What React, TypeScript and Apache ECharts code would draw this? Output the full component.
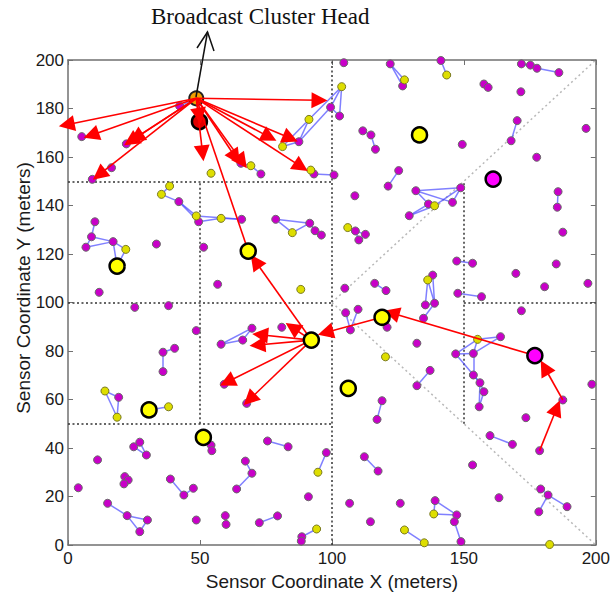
import React, { useEffect, useRef } from "react";
import * as echarts from "echarts";

// ---- Data ----
const xTicks = [0, 50, 100, 150, 200];
const yTicks = [0, 20, 40, 60, 80, 100, 120, 140, 160, 180, 200];

const magentaNodes: number[][] = [
  [42.3, 181], [5.2, 168.4], [22.1, 165.4], [16.5, 155.6], [9.2, 150.8], [65.5, 157.4], [73.1, 153],
  [87.5, 166.3], [99.5, 180.5], [93.2, 153], [100.8, 152.6], [42, 141.6], [49.5, 133.3], [65.8, 134.3],
  [78.7, 134.3], [91.6, 132.7], [93.6, 129.6], [96, 127.8], [10.2, 133.3], [8.9, 127.1], [6.8, 122.8],
  [17.1, 125.1], [33.5, 124.1], [51.4, 122.8], [56.7, 107.5], [11.8, 104.2], [25.3, 98], [38.1, 98.7],
  [48.6, 88.4], [69.7, 89.4], [66.2, 84.5], [58, 82.8], [81, 89.8], [36, 79.5], [40.4, 81.1], [36, 71.5],
  [59.2, 66.3], [67.7, 58.4], [19.2, 60.9],
  [54.2, 41.2], [54.5, 38.9], [24.9, 40.5], [27.2, 42.4], [29.7, 37.1], [11.2, 35.1], [3.9, 23.6],
  [21.5, 28.2], [22.8, 26.8], [21.2, 25.2], [38.8, 27.2], [43.9, 20.6], [47.5, 23.4], [15, 17.2],
  [22.4, 12.1], [30.1, 10.3], [27.2, 5.5], [48.6, 10.3], [59.6, 12.1], [59.9, 8.5], [75.6, 42.9],
  [83.4, 40.5], [67.2, 34.6], [69.7, 29.6], [63.9, 23.1], [97.9, 38.1], [91.1, 19.9], [72.5, 9.2],
  [79.4, 12], [88.6, 3.4], [88.4, 1.6],
  [104.5, 198.9], [122.1, 198.4], [126.8, 189.3], [141.3, 199.8], [171.8, 198.4], [175.2, 197.9],
  [177.7, 196.6], [186, 194.8], [157.6, 190.1], [159.2, 188.7], [171.6, 186.9], [111.7, 170.8],
  [114.8, 169.1], [116.5, 163.2], [149.4, 165.2], [170.2, 175], [167.9, 166.7], [196.3, 171.8],
  [177.6, 159.9], [125.3, 154.4], [121.3, 148], [108.7, 144], [131.8, 146.1], [136.6, 140.6],
  [145.7, 141.3], [148.8, 147.3], [129.3, 135.8], [185.7, 145.7], [185.4, 139.3], [187.5, 129],
  [108.9, 129.5], [112.7, 128.1], [110.2, 125.8], [102.9, 176.9],
  [147.3, 117.1], [153.3, 116.2], [169.7, 112], [185, 115.9], [180.6, 106.5], [197, 107.9],
  [104.9, 105.9], [116.2, 107.9], [120.5, 104.9], [138.2, 111.3], [135.4, 99], [138.9, 99.7],
  [134.7, 93.5], [147.7, 103.8], [156.7, 102.4], [171.8, 96.6], [120.9, 89.8], [105.2, 95.8],
  [109.9, 97.2], [107, 88.7], [132.2, 83.2], [163.9, 85.9], [153.6, 79], [146.9, 78.8], [137.2, 72],
  [132.2, 65.7],
  [153.6, 70.1], [156.1, 66.9], [157.6, 63.2], [155.8, 57], [119, 59.5], [117.1, 51.8], [198.5, 66.3],
  [187.5, 59.8], [173.5, 52.5], [159.9, 45.1], [168.4, 41.5], [112.3, 36.4], [117.5, 30.5],
  [153.3, 33], [178.7, 38.9], [179.1, 23.1], [181.9, 20.6], [189.1, 15.8], [178.4, 13.7],
  [163.3, 19.5], [106.7, 17.2], [125.9, 17.2], [114.6, 9.6], [139.1, 18.3], [147.3, 12.4],
  [146.4, 9.6], [148.9, 1.4],
];

const yellowNodes: number[][] = [
  [54.2, 153.3], [69.3, 156.4], [81.3, 164.3], [91.3, 175.5], [103.7, 189], [92, 154.6], [38.5, 148],
  [35.4, 144.6], [127.5, 191.8], [143.5, 193.8], [138.9, 139.9], [106, 130.9], [48.6, 135.7],
  [58, 134.7], [85, 128.8], [21.9, 121.9], [88.2, 105.4], [136.3, 109.3], [155.2, 84.8], [120.3, 77.6],
  [14, 63.5], [18.6, 52.7], [38.1, 57], [94.7, 30], [94.2, 6.6], [138.6, 12.8], [127.5, 6.2],
  [135, 0.9], [182.5, 0.2],
];

const yellowHeads: number[][] = [
  [133.2, 169.1], [68.3, 121.2], [18.6, 115], [119, 93.9], [92.2, 84.5], [106.2, 64.6], [30.7, 55.7],
  [51.3, 44.4],
];
const magentaHeads: number[][] = [[161.1, 150.9], [176.9, 78.1]];
const redHead: number[][] = [[49.8, 174.6]];
const broadcastHead: number[] = [48.6, 184.2];

const links: number[][][] = [
  [[42.3, 181], [48.6, 184.2]],
  [[65.5, 157.4], [69.3, 156.4]], [[69.3, 156.4], [73.1, 153]],
  [[81.3, 164.3], [87.5, 166.3]], [[87.5, 166.3], [91.3, 175.5]], [[81.3, 164.3], [91.3, 175.5]],
  [[91.3, 175.5], [103.7, 189]], [[87.5, 166.3], [99.5, 180.5]], [[99.5, 180.5], [103.7, 189]],
  [[103.7, 189], [102.9, 176.9]], [[99.5, 180.5], [102.9, 176.9]],
  [[92, 154.6], [93.2, 153]], [[93.2, 153], [100.8, 152.6]],
  [[38.5, 148], [35.4, 144.6]], [[35.4, 144.6], [42, 141.6]], [[42, 141.6], [48.6, 135.7]],
  [[42, 141.6], [49.5, 133.3]], [[48.6, 135.7], [65.8, 134.3]], [[49.5, 133.3], [58, 134.7]],
  [[58, 134.7], [65.8, 134.3]],
  [[78.7, 134.3], [85, 128.8]], [[78.7, 134.3], [91.6, 132.7]], [[85, 128.8], [91.6, 132.7]],
  [[91.6, 132.7], [93.6, 129.6]], [[93.6, 129.6], [96, 127.8]],
  [[10.2, 133.3], [8.9, 127.1]], [[8.9, 127.1], [6.8, 122.8]], [[6.8, 122.8], [17.1, 125.1]],
  [[8.9, 127.1], [17.1, 125.1]], [[17.1, 125.1], [21.9, 121.9]], [[21.9, 121.9], [18.6, 115]],
  [[17.1, 125.1], [18.6, 115]],
  [[69.7, 89.4], [58, 82.8]], [[66.2, 84.5], [58, 82.8]], [[69.7, 89.4], [66.2, 84.5]],
  [[36, 79.5], [40.4, 81.1]], [[36, 79.5], [36, 71.5]],
  [[14, 63.5], [19.2, 60.9]], [[19.2, 60.9], [18.6, 52.7]], [[14, 63.5], [18.6, 52.7]],
  [[30.7, 55.7], [38.1, 57]],
  [[51.3, 44.4], [54.2, 41.2]], [[54.2, 41.2], [54.5, 38.9]],
  [[24.9, 40.5], [27.2, 42.4]], [[27.2, 42.4], [29.7, 37.1]], [[24.9, 40.5], [29.7, 37.1]],
  [[21.5, 28.2], [22.8, 26.8]], [[22.8, 26.8], [21.2, 25.2]],
  [[38.8, 27.2], [43.9, 20.6]], [[43.9, 20.6], [47.5, 23.4]],
  [[15, 17.2], [22.4, 12.1]], [[22.4, 12.1], [30.1, 10.3]], [[22.4, 12.1], [27.2, 5.5]],
  [[30.1, 10.3], [27.2, 5.5]],
  [[59.6, 12.1], [59.9, 8.5]], [[75.6, 42.9], [83.4, 40.5]],
  [[67.2, 34.6], [69.7, 29.6]], [[69.7, 29.6], [63.9, 23.1]],
  [[97.9, 38.1], [94.7, 30]], [[72.5, 9.2], [79.4, 12]],
  [[94.2, 6.6], [88.6, 3.4]], [[88.6, 3.4], [88.4, 1.6]],
  [[122.1, 198.4], [127.5, 191.8]], [[122.1, 198.4], [126.8, 189.3]],
  [[141.3, 199.8], [143.5, 193.8]],
  [[171.8, 198.4], [175.2, 197.9]], [[175.2, 197.9], [177.7, 196.6]], [[177.7, 196.6], [186, 194.8]],
  [[171.8, 198.4], [177.7, 196.6]],
  [[157.6, 190.1], [159.2, 188.7]],
  [[111.7, 170.8], [114.8, 169.1]], [[114.8, 169.1], [116.5, 163.2]],
  [[170.2, 175], [167.9, 166.7]], [[125.3, 154.4], [121.3, 148]],
  [[131.8, 146.1], [136.6, 140.6]], [[131.8, 146.1], [145.7, 141.3]], [[131.8, 146.1], [148.8, 147.3]],
  [[136.6, 140.6], [138.9, 139.9]], [[138.9, 139.9], [148.8, 147.3]], [[129.3, 135.8], [138.9, 139.9]],
  [[129.3, 135.8], [136.6, 140.6]], [[145.7, 141.3], [148.8, 147.3]],
  [[185.7, 145.7], [185.4, 139.3]],
  [[106, 130.9], [108.9, 129.5]], [[108.9, 129.5], [110.2, 125.8]], [[110.2, 125.8], [112.7, 128.1]],
  [[108.9, 129.5], [112.7, 128.1]],
  [[147.3, 117.1], [153.3, 116.2]], [[116.2, 107.9], [120.5, 104.9]],
  [[136.3, 109.3], [138.2, 111.3]], [[136.3, 109.3], [135.4, 99]], [[138.2, 111.3], [138.9, 99.7]],
  [[136.3, 109.3], [138.9, 99.7]], [[135.4, 99], [138.9, 99.7]], [[138.9, 99.7], [134.7, 93.5]],
  [[147.7, 103.8], [156.7, 102.4]], [[119, 93.9], [120.9, 89.8]],
  [[105.2, 95.8], [107, 88.7]], [[109.9, 97.2], [107, 88.7]],
  [[155.2, 84.8], [163.9, 85.9]], [[155.2, 84.8], [153.6, 79]], [[153.6, 79], [163.9, 85.9]],
  [[155.2, 84.8], [146.9, 78.8]], [[146.9, 78.8], [153.6, 79]], [[153.6, 79], [153.6, 70.1]],
  [[146.9, 78.8], [156.1, 66.9]], [[153.6, 70.1], [156.1, 66.9]], [[156.1, 66.9], [157.6, 63.2]],
  [[157.6, 63.2], [155.8, 57]], [[156.1, 66.9], [155.8, 57]],
  [[137.2, 72], [132.2, 65.7]],
  [[119, 59.5], [117.1, 51.8]], [[159.9, 45.1], [168.4, 41.5]], [[112.3, 36.4], [117.5, 30.5]],
  [[179.1, 23.1], [181.9, 20.6]], [[181.9, 20.6], [189.1, 15.8]], [[181.9, 20.6], [178.4, 13.7]],
  [[139.1, 18.3], [138.6, 12.8]], [[139.1, 18.3], [147.3, 12.4]], [[138.6, 12.8], [147.3, 12.4]],
  [[147.3, 12.4], [146.4, 9.6]], [[146.4, 9.6], [148.9, 1.4]],
  [[127.5, 6.2], [135, 0.9]],
];

// red routing arrows: [from, arrow-head position]
const routes: number[][][] = [
  [[48.6, 184.2], [-0.5, 173.3]],
  [[48.6, 184.2], [8.8, 169]],
  [[48.6, 184.2], [23.8, 166.6]],
  [[48.6, 184.2], [25.8, 168]],
  [[48.6, 184.2], [11.8, 152.7]],
  [[48.6, 184.2], [51, 161.5]],
  [[48.6, 184.2], [63.5, 159.8]],
  [[48.6, 184.2], [66, 158]],
  [[48.6, 184.2], [76.3, 168.2]],
  [[48.6, 184.2], [84.3, 167.7]],
  [[48.6, 184.2], [88.3, 156]],
  [[48.6, 184.2], [95.3, 183.4]],
  [[48.6, 184.2], [49.8, 177]],
  [[92.2, 84.5], [85, 89.7]],
  [[92.2, 84.5], [72.8, 86.7]],
  [[92.2, 84.5], [71.8, 82.5]],
  [[92.2, 84.5], [60.3, 67.2]],
  [[92.2, 84.5], [68.8, 60]],
  [[92.2, 84.5], [71, 117]],
  [[119, 93.9], [97.6, 87.6]],
  [[176.9, 78.1], [122.6, 95.7]],
  [[187.5, 59.8], [180.6, 73.2]],
  [[178.7, 38.9], [185.2, 56.5]],
];
// plain red path (no visible head)
const plainRoutes: number[][][] = [[[48.6, 184.2], [68.3, 121.2]]];

// partition (quadtree) lines
const partitions: number[][][] = [
  [[100, 0], [100, 200]],
  [[0, 100], [100, 100]],
  [[150, 100], [200, 100]],
  [[0, 150], [100, 150]],
  [[0, 50], [100, 50]],
  [[50, 50], [50, 150]],
  [[150, 50], [150, 150]],
];
const diagonals: number[][][] = [
  [[100, 100], [200, 200]],
  [[100, 100], [200, 0]],
];

const toLines = (arr: number[][][]) => arr.map((c) => ({ coords: c }));

export default function App() {
  const ref = useRef<HTMLDivElement>(null);
  useEffect(() => {
    if (!ref.current) return;
    const chart = echarts.init(ref.current, null, { renderer: "svg" });
    const axisColor = "#707070";
    const labelFont = "Liberation Sans, Arial, sans-serif";
    const baseAxis = {
      type: "value" as const,
      min: 0,
      max: 200,
      axisLine: { show: true, onZero: false, lineStyle: { color: axisColor, width: 1.5 } },
      axisTick: { show: true, inside: true, length: 5, lineStyle: { color: axisColor, width: 1 } },
      splitLine: { show: false },
    };
    chart.setOption({
      animation: false,
      backgroundColor: "#ffffff",
      grid: { left: 68, top: 60, width: 530, height: 485 },
      xAxis: [
        {
          ...baseAxis,
          interval: xTicks[1] - xTicks[0],
          position: "bottom",
          axisLabel: { fontSize: 17, color: "#1a1a1a", fontFamily: labelFont, margin: 5 },
          name: "Sensor Coordinate X (meters)",
          nameLocation: "middle",
          nameGap: 24,
          nameTextStyle: { fontSize: 19, color: "#1a1a1a", fontFamily: labelFont },
        },
        { ...baseAxis, interval: 50, position: "top", axisLabel: { show: false } },
      ],
      yAxis: [
        {
          ...baseAxis,
          interval: yTicks[1] - yTicks[0],
          position: "left",
          axisLabel: { fontSize: 17, color: "#1a1a1a", fontFamily: labelFont, margin: 4 },
        },
        { ...baseAxis, interval: 20, position: "right", axisLabel: { show: false } },
      ],
      graphic: [
        {
          type: "text",
          x: 23,
          y: 288,
          rotation: Math.PI / 2,
          style: {
            text: "Sensor Coordinate Y (meters)",
            fontSize: 19,
            fontFamily: labelFont,
            fill: "#1a1a1a",
            align: "center",
            verticalAlign: "middle",
          },
        },
        {
          type: "text",
          left: 151,
          top: 5,
          style: {
            text: "Broadcast Cluster Head",
            fontSize: 23,
            fontFamily: "Liberation Serif, Times New Roman, serif",
            fill: "#111",
          },
          z: 100,
        },
        {
          type: "line",
          shape: { x1: 196, y1: 97, x2: 207.5, y2: 32 },
          style: { stroke: "#111", lineWidth: 1.5 },
          z: 100,
        },
        {
          type: "polyline",
          shape: { points: [[197, 48], [207.5, 32], [214, 51]] },
          style: { stroke: "#111", lineWidth: 1.5, fill: "none" },
          z: 100,
        },
      ],
      series: [
        {
          type: "lines",
          coordinateSystem: "cartesian2d",
          data: toLines(diagonals),
          lineStyle: { color: "#b8b8b8", width: 1.5, type: [2, 3], opacity: 1 },
          symbol: ["none", "none"],
          z: 1,
        },
        {
          type: "lines",
          coordinateSystem: "cartesian2d",
          data: toLines(partitions),
          lineStyle: { color: "#333", width: 1.5, type: [2, 2.5], opacity: 1 },
          symbol: ["none", "none"],
          z: 1,
        },
        {
          type: "lines",
          coordinateSystem: "cartesian2d",
          data: toLines(links),
          lineStyle: { color: "#4a4aff", width: 1.5, opacity: 0.7 },
          symbol: ["none", "none"],
          z: 2,
        },
        {
          type: "scatter",
          data: magentaNodes,
          symbol: "circle",
          symbolSize: 8,
          itemStyle: { color: "#c800c8", borderColor: "#6a6a6a", borderWidth: 1, opacity: 1 },
          z: 3,
        },
        {
          type: "scatter",
          data: yellowNodes,
          symbol: "circle",
          symbolSize: 8,
          itemStyle: { color: "#dede00", borderColor: "#7a7a20", borderWidth: 1, opacity: 1 },
          z: 3,
        },
        {
          type: "scatter",
          data: [broadcastHead],
          symbol: "circle",
          symbolSize: 14,
          itemStyle: { color: "#f0a000", borderColor: "#222", borderWidth: 2, opacity: 1 },
          z: 4,
        },
        {
          type: "scatter",
          data: redHead,
          symbol: "circle",
          symbolSize: 15,
          itemStyle: { color: "#e00000", borderColor: "#000", borderWidth: 2.5, opacity: 1 },
          z: 4,
        },
        {
          type: "lines",
          coordinateSystem: "cartesian2d",
          clip: false,
          data: toLines(plainRoutes),
          lineStyle: { color: "#ff0000", width: 1.6, opacity: 1 },
          symbol: ["none", "none"],
          z: 5,
        },
        {
          type: "lines",
          coordinateSystem: "cartesian2d",
          clip: false,
          data: toLines(routes),
          lineStyle: { color: "#ff0000", width: 1.6, opacity: 1 },
          symbol: ["none", "triangle"],
          symbolSize: 16,
          itemStyle: { color: "#ff0000" },
          z: 5,
        },
        {
          type: "scatter",
          data: yellowHeads,
          symbol: "circle",
          symbolSize: 15,
          itemStyle: { color: "#ffff00", borderColor: "#000", borderWidth: 2.5, opacity: 1 },
          z: 6,
        },
        {
          type: "scatter",
          data: magentaHeads,
          symbol: "circle",
          symbolSize: 15,
          itemStyle: { color: "#ff00ff", borderColor: "#000", borderWidth: 2.5, opacity: 1 },
          z: 6,
        },
      ],
    });
    return () => chart.dispose();
  }, []);
  return (
    <div
      ref={ref}
      style={{ position: "fixed", left: 0, top: 0, width: 613, height: 600, background: "#fff" }}
    />
  );
}
